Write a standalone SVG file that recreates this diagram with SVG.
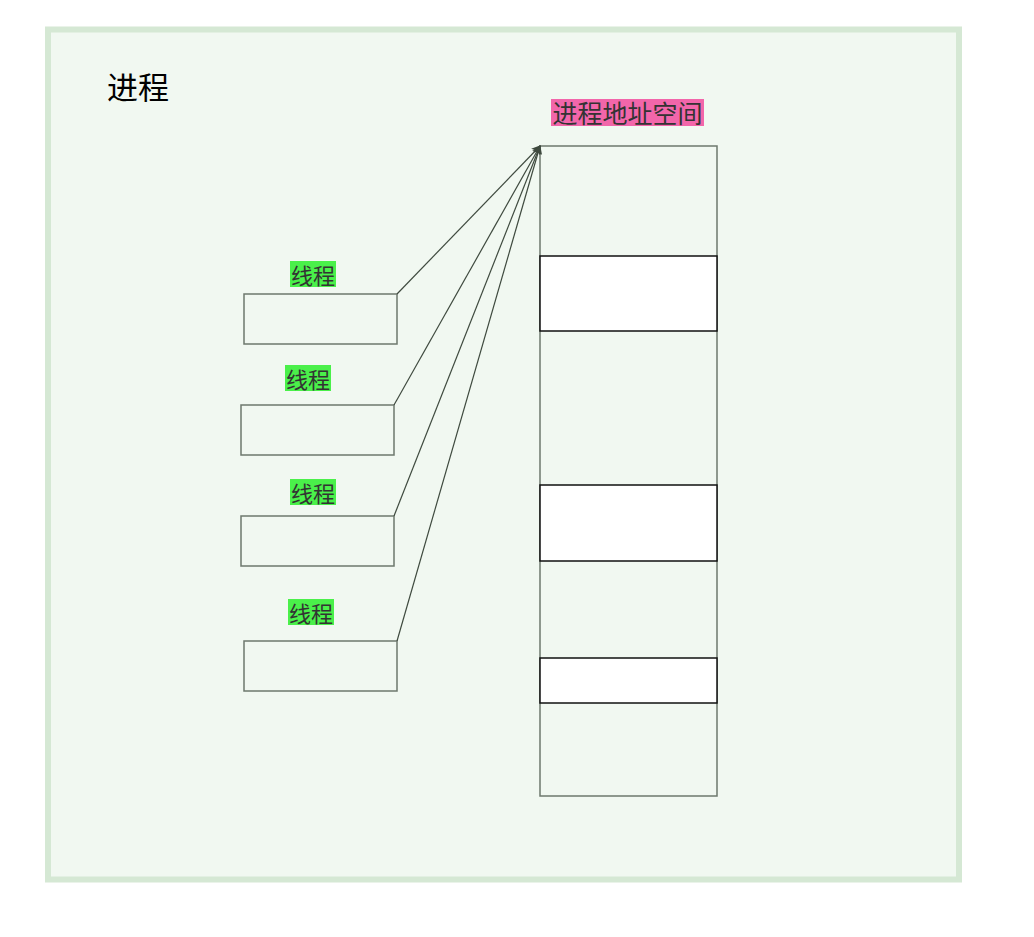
<svg xmlns="http://www.w3.org/2000/svg" width="1034" height="937" viewBox="0 0 1034 937">
<style>
.cjk{font-family:"Noto Sans CJK SC","Noto Sans",sans-serif;}
.box{fill:none;stroke:#6d786d;stroke-width:1.5;}
.seg{fill:#ffffff;stroke:#111;stroke-width:1.5;}
.lbl{font-size:22px;fill:#333;text-anchor:middle;dominant-baseline:central;}
.conn{fill:none;stroke:#3f4a3f;stroke-width:1.2;marker-end:url(#arr);}
</style>
<defs>
<marker id="arr" viewBox="0 0 10 10" refX="9" refY="5" markerWidth="9" markerHeight="9" markerUnits="userSpaceOnUse" orient="auto">
<path d="M0,0 L10,5 L0,10 L2.5,5 Z" fill="#3f4a3f"/>
</marker>
</defs>
<rect width="1034" height="937" fill="#ffffff"/>
<g id="process">
<rect x="48" y="29.5" width="911" height="850" fill="#f1f8f1" stroke="#d5e8d4" stroke-width="6"/>
<text class="cjk" x="107" y="85" font-size="31" fill="#000" dominant-baseline="central">进程</text>
</g>
<g id="address-space">
<rect class="box" x="540" y="146" width="177" height="650" fill="#f1f8f1"/>
<rect class="seg" x="540" y="256" width="177" height="75"/>
<rect class="seg" x="540" y="485" width="177" height="76"/>
<rect class="seg" x="540" y="658" width="177" height="45"/>
<rect x="551" y="99" width="153" height="27" fill="#f266aa"/>
<text class="cjk lbl" x="627.5" y="112" style="font-size:25px">进程地址空间</text>
</g>
<g id="thread1">
<rect x="290" y="261" width="46" height="26" fill="#4af04a"/>
<text class="cjk lbl" x="313" y="274">线程</text>
<rect class="box" x="244" y="294" width="153" height="50"/>
</g>
<g id="thread2">
<rect x="285" y="365" width="46" height="26" fill="#4af04a"/>
<text class="cjk lbl" x="308" y="378">线程</text>
<rect class="box" x="241" y="405" width="153" height="50"/>
</g>
<g id="thread3">
<rect x="290" y="479" width="46" height="26" fill="#4af04a"/>
<text class="cjk lbl" x="313" y="492">线程</text>
<rect class="box" x="241" y="516" width="153" height="50"/>
</g>
<g id="thread4">
<rect x="288" y="599" width="46" height="26" fill="#4af04a"/>
<text class="cjk lbl" x="311" y="612">线程</text>
<rect class="box" x="244" y="641" width="153" height="50"/>
</g>
<g id="connectors">
<path class="conn" d="M397,294 L540,146"/>
<path class="conn" d="M394,405 L540,146"/>
<path class="conn" d="M394,516 L540,146"/>
<path class="conn" d="M397,641 L540,146"/>
</g>
</svg>
